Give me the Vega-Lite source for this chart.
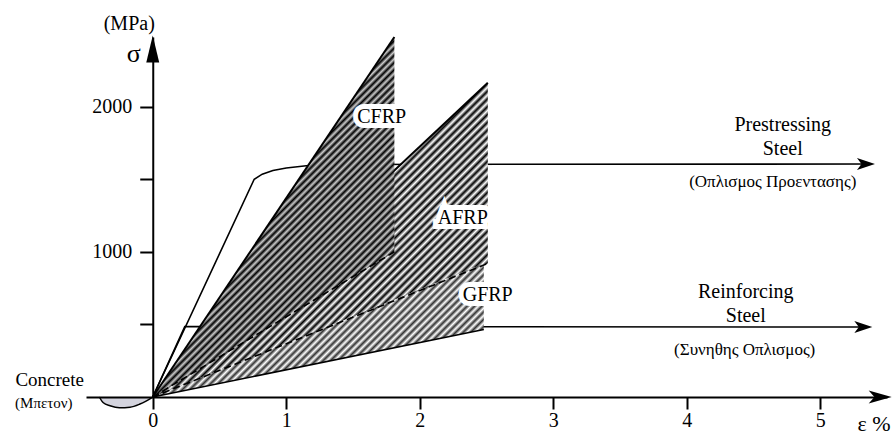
{
"$schema":"https://vega.github.io/schema/vega-lite/v6.json",
"width":801,"height":360,
"autosize":{"type":"none"},
"padding":{"left":86,"top":37,"right":6,"bottom":37},
"background":"white",
"config":{"view":{"stroke":null},"font":"Liberation Serif"},
"datasets":{
"frp":[{"m":"CFRP","e":0,"v":0,"v2":0},{"m":"CFRP","e":1.81,"v":2480,"v2":1000},{"m":"AFRP","e":0,"v":0,"v2":0},{"m":"AFRP","e":2.51,"v":2165,"v2":920},{"m":"GFRP","e":0,"v":0,"v2":0},{"m":"GFRP","e":2.48,"v":920,"v2":465}],
"steel":[{"s":"P","e":0,"v":0},{"s":"P","e":0.76,"v":1500},{"s":"P","e":0.82,"v":1535},{"s":"P","e":0.9,"v":1560},{"s":"P","e":1.0,"v":1578},{"s":"P","e":1.15,"v":1593},{"s":"P","e":1.35,"v":1602},{"s":"P","e":5.38,"v":1605},{"s":"R","e":0,"v":0},{"s":"R","e":0.24,"v":485},{"s":"R","e":5.36,"v":482}],
"concrete":[{"e":-0.4,"v":0},{"e":-0.37,"v":-40},{"e":-0.32,"v":-60},{"e":-0.25,"v":-74},{"e":-0.17,"v":-70},{"e":-0.1,"v":-50},{"e":-0.05,"v":-28},{"e":0,"v":0}],
"arrows":[{"k":"x","e":5.535,"v":0},{"k":"y","e":0,"v":2491},{"k":"s","e":5.41,"v":1605},{"k":"s","e":5.39,"v":482}],
"labels":[{"k":"frp","t":"CFRP","e":1.715,"v":1927},{"k":"frp","t":"AFRP","e":2.322,"v":1232},{"k":"frp","t":"GFRP","e":2.509,"v":702},{"k":"steel","t":"Prestressing\nSteel","e":4.719,"v":1874},{"k":"steel","t":"Reinforcing\nSteel","e":4.442,"v":723},{"k":"gr","t":"(Οπλισμος Προεντασης)","e":4.644,"v":1480},{"k":"gr","t":"(Συνηθης Οπλισμος)","e":4.434,"v":323},{"k":"conc","t":"Concrete","e":-0.772,"v":117},{"k":"conc2","t":"(Μπετον)","e":-0.816,"v":-41},{"k":"sig","t":"σ","e":-0.142,"v":2361}]
},
"encoding":{
"x":{"field":"e","type":"quantitative","scale":{"domain":[-0.5,5.5],"nice":false,"zero":false},
"axis":{"values":[0,1,2,3,4,5],"format":"d","title":"ε %","titleX":771,"titleY":33,"titleAlign":"left","titleBaseline":"alphabetic","titleAnchor":"start","titleFont":"Liberation Serif","titleFontSize":22,"titleFontWeight":"normal","titleColor":"#000","labelFont":"Liberation Serif","labelFontSize":20,"labelColor":"#000","labelDx":-5,"labelPadding":1,"labelFlush":false,"labelOverlap":false,"tickSize":12,"tickWidth":2,"tickColor":"#000","domainColor":"#000","domainWidth":2,"grid":false,"zindex":1}},
"y":{"field":"v","type":"quantitative","scale":{"domain":[0,2480],"nice":false,"zero":false},
"axis":{"values":[500,1000,1500,2000],"format":"d","labelExpr":"datum.value % 1000 === 0 ? datum.label : ''","offset":-66.75,"title":"(MPa)","titleAngle":0,"titleX":-24,"titleY":-8,"titleAlign":"center","titleBaseline":"alphabetic","titleFont":"Liberation Serif","titleFontSize":20,"titleFontWeight":"normal","titleColor":"#000","labelFont":"Liberation Serif","labelFontSize":20,"labelColor":"#000","labelPadding":8,"labelOverlap":false,"tickSize":13,"tickWidth":2,"tickColor":"#000","domainColor":"#000","domainWidth":2,"grid":false,"zindex":1}}
},
"layer":[
{"data":{"name":"concrete"},"mark":{"type":"area","fill":"#d4d4de","interpolate":"monotone"},"encoding":{"y2":{"datum":0}}},
{"data":{"name":"concrete"},"mark":{"type":"line","color":"#000","strokeWidth":1.5,"interpolate":"monotone"},"encoding":{}},
{"data":{"name":"steel"},"mark":{"type":"line","color":"#000","strokeWidth":1.6},"encoding":{"detail":{"field":"s"}}},
{"data":{"name":"frp"},"transform":[{"filter":"datum.m==='AFRP'"}],"mark":{"type":"area","fill":{"gradient":"linear","x1":0,"y1":0,"x2":1.03,"y2":0.968,"stops":[
{"offset":0,"color":"#000"},{"offset":0.006,"color":"#fff"},{"offset":0.012,"color":"#000"},{"offset":0.018,"color":"#fff"},{"offset":0.024,"color":"#000"},{"offset":0.03,"color":"#fff"},{"offset":0.036,"color":"#000"},{"offset":0.042,"color":"#fff"},{"offset":0.048,"color":"#000"},{"offset":0.054,"color":"#fff"},{"offset":0.06,"color":"#000"},{"offset":0.066,"color":"#fff"},{"offset":0.072,"color":"#000"},{"offset":0.078,"color":"#fff"},{"offset":0.084,"color":"#000"},{"offset":0.09,"color":"#fff"},{"offset":0.096,"color":"#000"},{"offset":0.102,"color":"#fff"},{"offset":0.108,"color":"#000"},{"offset":0.114,"color":"#fff"},{"offset":0.12,"color":"#000"},{"offset":0.126,"color":"#fff"},{"offset":0.132,"color":"#000"},{"offset":0.138,"color":"#fff"},{"offset":0.144,"color":"#000"},{"offset":0.15,"color":"#fff"},{"offset":0.156,"color":"#000"},{"offset":0.162,"color":"#fff"},{"offset":0.168,"color":"#000"},{"offset":0.174,"color":"#fff"},{"offset":0.18,"color":"#000"},{"offset":0.186,"color":"#fff"},{"offset":0.192,"color":"#000"},{"offset":0.198,"color":"#fff"},{"offset":0.204,"color":"#000"},{"offset":0.21,"color":"#fff"},{"offset":0.216,"color":"#000"},{"offset":0.222,"color":"#fff"},{"offset":0.228,"color":"#000"},{"offset":0.234,"color":"#fff"},{"offset":0.24,"color":"#000"},{"offset":0.246,"color":"#fff"},{"offset":0.252,"color":"#000"},{"offset":0.258,"color":"#fff"},{"offset":0.264,"color":"#000"},{"offset":0.27,"color":"#fff"},{"offset":0.276,"color":"#000"},{"offset":0.282,"color":"#fff"},{"offset":0.288,"color":"#000"},{"offset":0.294,"color":"#fff"},{"offset":0.3,"color":"#000"},{"offset":0.306,"color":"#fff"},{"offset":0.312,"color":"#000"},{"offset":0.318,"color":"#fff"},{"offset":0.324,"color":"#000"},{"offset":0.33,"color":"#fff"},{"offset":0.336,"color":"#000"},{"offset":0.342,"color":"#fff"},{"offset":0.348,"color":"#000"},{"offset":0.354,"color":"#fff"},{"offset":0.36,"color":"#000"},{"offset":0.366,"color":"#fff"},{"offset":0.372,"color":"#000"},{"offset":0.378,"color":"#fff"},{"offset":0.384,"color":"#000"},{"offset":0.39,"color":"#fff"},{"offset":0.396,"color":"#000"},{"offset":0.402,"color":"#fff"},{"offset":0.408,"color":"#000"},{"offset":0.414,"color":"#fff"},{"offset":0.42,"color":"#000"},{"offset":0.426,"color":"#fff"},{"offset":0.432,"color":"#000"},{"offset":0.438,"color":"#fff"},{"offset":0.444,"color":"#000"},{"offset":0.45,"color":"#fff"},{"offset":0.456,"color":"#000"},{"offset":0.462,"color":"#fff"},{"offset":0.468,"color":"#000"},{"offset":0.474,"color":"#fff"},{"offset":0.48,"color":"#000"},{"offset":0.486,"color":"#fff"},{"offset":0.492,"color":"#000"},{"offset":0.498,"color":"#fff"},{"offset":0.504,"color":"#000"},{"offset":0.51,"color":"#fff"},{"offset":0.516,"color":"#000"},{"offset":0.522,"color":"#fff"},{"offset":0.528,"color":"#000"},{"offset":0.534,"color":"#fff"},{"offset":0.54,"color":"#000"},{"offset":0.546,"color":"#fff"},{"offset":0.552,"color":"#000"},{"offset":0.558,"color":"#fff"},{"offset":0.564,"color":"#000"},{"offset":0.57,"color":"#fff"},{"offset":0.576,"color":"#000"},{"offset":0.582,"color":"#fff"},{"offset":0.588,"color":"#000"},{"offset":0.594,"color":"#fff"},{"offset":0.6,"color":"#000"},{"offset":0.606,"color":"#fff"},{"offset":0.612,"color":"#000"},{"offset":0.618,"color":"#fff"},{"offset":0.624,"color":"#000"},{"offset":0.63,"color":"#fff"},{"offset":0.636,"color":"#000"},{"offset":0.642,"color":"#fff"},{"offset":0.648,"color":"#000"},{"offset":0.654,"color":"#fff"},{"offset":0.66,"color":"#000"},{"offset":0.666,"color":"#fff"},{"offset":0.672,"color":"#000"},{"offset":0.678,"color":"#fff"},{"offset":0.684,"color":"#000"},{"offset":0.69,"color":"#fff"},{"offset":0.696,"color":"#000"},{"offset":0.702,"color":"#fff"},{"offset":0.708,"color":"#000"},{"offset":0.714,"color":"#fff"},{"offset":0.72,"color":"#000"},{"offset":0.726,"color":"#fff"},{"offset":0.732,"color":"#000"},{"offset":0.738,"color":"#fff"},{"offset":0.744,"color":"#000"},{"offset":0.75,"color":"#fff"},{"offset":0.756,"color":"#000"},{"offset":0.762,"color":"#fff"},{"offset":0.768,"color":"#000"},{"offset":0.774,"color":"#fff"},{"offset":0.78,"color":"#000"},{"offset":0.786,"color":"#fff"},{"offset":0.792,"color":"#000"},{"offset":0.798,"color":"#fff"},{"offset":0.804,"color":"#000"},{"offset":0.81,"color":"#fff"},{"offset":0.816,"color":"#000"},{"offset":0.822,"color":"#fff"},{"offset":0.828,"color":"#000"},{"offset":0.834,"color":"#fff"},{"offset":0.84,"color":"#000"},{"offset":0.846,"color":"#fff"},{"offset":0.852,"color":"#000"},{"offset":0.858,"color":"#fff"},{"offset":0.864,"color":"#000"},{"offset":0.87,"color":"#fff"},{"offset":0.876,"color":"#000"},{"offset":0.882,"color":"#fff"},{"offset":0.888,"color":"#000"},{"offset":0.894,"color":"#fff"},{"offset":0.9,"color":"#000"},{"offset":0.906,"color":"#fff"},{"offset":0.912,"color":"#000"},{"offset":0.918,"color":"#fff"},{"offset":0.924,"color":"#000"},{"offset":0.93,"color":"#fff"},{"offset":0.936,"color":"#000"},{"offset":0.942,"color":"#fff"},{"offset":0.948,"color":"#000"},{"offset":0.954,"color":"#fff"},{"offset":0.96,"color":"#000"},{"offset":0.966,"color":"#fff"},{"offset":0.972,"color":"#000"},{"offset":0.978,"color":"#fff"},{"offset":0.984,"color":"#000"},{"offset":0.99,"color":"#fff"},{"offset":0.996,"color":"#000"},{"offset":1,"color":"#fff"}]}},"encoding":{"y2":{"field":"v2"}}},
{"data":{"name":"frp"},"transform":[{"filter":"datum.m==='AFRP'"}],"mark":{"type":"line","color":"#000","strokeWidth":2},"encoding":{}},
{"data":{"name":"frp"},"transform":[{"filter":"datum.m==='GFRP'"}],"mark":{"type":"area","fill":{"gradient":"linear","x1":0,"y1":0,"x2":1.207,"y2":0.489,"stops":[
{"offset":0,"color":"#333"},{"offset":0.008,"color":"#fff"},{"offset":0.016,"color":"#333"},{"offset":0.024,"color":"#fff"},{"offset":0.032,"color":"#333"},{"offset":0.04,"color":"#fff"},{"offset":0.048,"color":"#333"},{"offset":0.056,"color":"#fff"},{"offset":0.064,"color":"#333"},{"offset":0.072,"color":"#fff"},{"offset":0.08,"color":"#333"},{"offset":0.088,"color":"#fff"},{"offset":0.096,"color":"#333"},{"offset":0.104,"color":"#fff"},{"offset":0.112,"color":"#333"},{"offset":0.12,"color":"#fff"},{"offset":0.128,"color":"#333"},{"offset":0.136,"color":"#fff"},{"offset":0.144,"color":"#333"},{"offset":0.152,"color":"#fff"},{"offset":0.16,"color":"#333"},{"offset":0.168,"color":"#fff"},{"offset":0.176,"color":"#333"},{"offset":0.184,"color":"#fff"},{"offset":0.192,"color":"#333"},{"offset":0.2,"color":"#fff"},{"offset":0.208,"color":"#333"},{"offset":0.216,"color":"#fff"},{"offset":0.224,"color":"#333"},{"offset":0.232,"color":"#fff"},{"offset":0.24,"color":"#333"},{"offset":0.248,"color":"#fff"},{"offset":0.256,"color":"#333"},{"offset":0.264,"color":"#fff"},{"offset":0.272,"color":"#333"},{"offset":0.28,"color":"#fff"},{"offset":0.288,"color":"#333"},{"offset":0.296,"color":"#fff"},{"offset":0.304,"color":"#333"},{"offset":0.312,"color":"#fff"},{"offset":0.32,"color":"#333"},{"offset":0.328,"color":"#fff"},{"offset":0.336,"color":"#333"},{"offset":0.344,"color":"#fff"},{"offset":0.352,"color":"#333"},{"offset":0.36,"color":"#fff"},{"offset":0.368,"color":"#333"},{"offset":0.376,"color":"#fff"},{"offset":0.384,"color":"#333"},{"offset":0.392,"color":"#fff"},{"offset":0.4,"color":"#333"},{"offset":0.408,"color":"#fff"},{"offset":0.416,"color":"#333"},{"offset":0.424,"color":"#fff"},{"offset":0.432,"color":"#333"},{"offset":0.44,"color":"#fff"},{"offset":0.448,"color":"#333"},{"offset":0.456,"color":"#fff"},{"offset":0.464,"color":"#333"},{"offset":0.472,"color":"#fff"},{"offset":0.48,"color":"#333"},{"offset":0.488,"color":"#fff"},{"offset":0.496,"color":"#333"},{"offset":0.504,"color":"#fff"},{"offset":0.512,"color":"#333"},{"offset":0.52,"color":"#fff"},{"offset":0.528,"color":"#333"},{"offset":0.536,"color":"#fff"},{"offset":0.544,"color":"#333"},{"offset":0.552,"color":"#fff"},{"offset":0.56,"color":"#333"},{"offset":0.568,"color":"#fff"},{"offset":0.576,"color":"#333"},{"offset":0.584,"color":"#fff"},{"offset":0.592,"color":"#333"},{"offset":0.6,"color":"#fff"},{"offset":0.608,"color":"#333"},{"offset":0.616,"color":"#fff"},{"offset":0.624,"color":"#333"},{"offset":0.632,"color":"#fff"},{"offset":0.64,"color":"#333"},{"offset":0.648,"color":"#fff"},{"offset":0.656,"color":"#333"},{"offset":0.664,"color":"#fff"},{"offset":0.672,"color":"#333"},{"offset":0.68,"color":"#fff"},{"offset":0.688,"color":"#333"},{"offset":0.696,"color":"#fff"},{"offset":0.704,"color":"#333"},{"offset":0.712,"color":"#fff"},{"offset":0.72,"color":"#333"},{"offset":0.728,"color":"#fff"},{"offset":0.736,"color":"#333"},{"offset":0.744,"color":"#fff"},{"offset":0.752,"color":"#333"},{"offset":0.76,"color":"#fff"},{"offset":0.768,"color":"#333"},{"offset":0.776,"color":"#fff"},{"offset":0.784,"color":"#333"},{"offset":0.792,"color":"#fff"},{"offset":0.8,"color":"#333"},{"offset":0.808,"color":"#fff"},{"offset":0.816,"color":"#333"},{"offset":0.824,"color":"#fff"},{"offset":0.832,"color":"#333"},{"offset":0.84,"color":"#fff"},{"offset":0.848,"color":"#333"},{"offset":0.856,"color":"#fff"},{"offset":0.864,"color":"#333"},{"offset":0.872,"color":"#fff"},{"offset":0.88,"color":"#333"},{"offset":0.888,"color":"#fff"},{"offset":0.896,"color":"#333"},{"offset":0.904,"color":"#fff"},{"offset":0.912,"color":"#333"},{"offset":0.92,"color":"#fff"},{"offset":0.928,"color":"#333"},{"offset":0.936,"color":"#fff"},{"offset":0.944,"color":"#333"},{"offset":0.952,"color":"#fff"},{"offset":0.96,"color":"#333"},{"offset":0.968,"color":"#fff"},{"offset":0.976,"color":"#333"},{"offset":0.984,"color":"#fff"},{"offset":0.992,"color":"#333"},{"offset":1,"color":"#fff"}]}},"encoding":{"y2":{"field":"v2"}}},
{"data":{"name":"frp"},"transform":[{"filter":"datum.m==='AFRP'"},{"fold":["v2"],"as":["key","v"]}],"mark":{"type":"line","color":"#000","strokeWidth":1.6,"strokeDash":[7,4]},"encoding":{}},
{"data":{"name":"frp"},"transform":[{"filter":"datum.m==='GFRP'"},{"fold":["v2"],"as":["key","v"]}],"mark":{"type":"line","color":"#000","strokeWidth":1.6},"encoding":{}},
{"data":{"name":"frp"},"transform":[{"filter":"datum.m==='CFRP'"}],"mark":{"type":"area","fill":{"gradient":"linear","x1":0,"y1":0,"x2":0.774,"y2":1.152,"stops":[
{"offset":0,"color":"#000"},{"offset":0.006,"color":"#ccc"},{"offset":0.012,"color":"#000"},{"offset":0.018,"color":"#ccc"},{"offset":0.024,"color":"#000"},{"offset":0.03,"color":"#ccc"},{"offset":0.036,"color":"#000"},{"offset":0.042,"color":"#ccc"},{"offset":0.048,"color":"#000"},{"offset":0.054,"color":"#ccc"},{"offset":0.06,"color":"#000"},{"offset":0.066,"color":"#ccc"},{"offset":0.072,"color":"#000"},{"offset":0.078,"color":"#ccc"},{"offset":0.084,"color":"#000"},{"offset":0.09,"color":"#ccc"},{"offset":0.096,"color":"#000"},{"offset":0.102,"color":"#ccc"},{"offset":0.108,"color":"#000"},{"offset":0.114,"color":"#ccc"},{"offset":0.12,"color":"#000"},{"offset":0.126,"color":"#ccc"},{"offset":0.132,"color":"#000"},{"offset":0.138,"color":"#ccc"},{"offset":0.144,"color":"#000"},{"offset":0.15,"color":"#ccc"},{"offset":0.156,"color":"#000"},{"offset":0.162,"color":"#ccc"},{"offset":0.168,"color":"#000"},{"offset":0.174,"color":"#ccc"},{"offset":0.18,"color":"#000"},{"offset":0.186,"color":"#ccc"},{"offset":0.192,"color":"#000"},{"offset":0.198,"color":"#ccc"},{"offset":0.204,"color":"#000"},{"offset":0.21,"color":"#ccc"},{"offset":0.216,"color":"#000"},{"offset":0.222,"color":"#ccc"},{"offset":0.228,"color":"#000"},{"offset":0.234,"color":"#ccc"},{"offset":0.24,"color":"#000"},{"offset":0.246,"color":"#ccc"},{"offset":0.252,"color":"#000"},{"offset":0.258,"color":"#ccc"},{"offset":0.264,"color":"#000"},{"offset":0.27,"color":"#ccc"},{"offset":0.276,"color":"#000"},{"offset":0.282,"color":"#ccc"},{"offset":0.288,"color":"#000"},{"offset":0.294,"color":"#ccc"},{"offset":0.3,"color":"#000"},{"offset":0.306,"color":"#ccc"},{"offset":0.312,"color":"#000"},{"offset":0.318,"color":"#ccc"},{"offset":0.324,"color":"#000"},{"offset":0.33,"color":"#ccc"},{"offset":0.336,"color":"#000"},{"offset":0.342,"color":"#ccc"},{"offset":0.348,"color":"#000"},{"offset":0.354,"color":"#ccc"},{"offset":0.36,"color":"#000"},{"offset":0.366,"color":"#ccc"},{"offset":0.372,"color":"#000"},{"offset":0.378,"color":"#ccc"},{"offset":0.384,"color":"#000"},{"offset":0.39,"color":"#ccc"},{"offset":0.396,"color":"#000"},{"offset":0.402,"color":"#ccc"},{"offset":0.408,"color":"#000"},{"offset":0.414,"color":"#ccc"},{"offset":0.42,"color":"#000"},{"offset":0.426,"color":"#ccc"},{"offset":0.432,"color":"#000"},{"offset":0.438,"color":"#ccc"},{"offset":0.444,"color":"#000"},{"offset":0.45,"color":"#ccc"},{"offset":0.456,"color":"#000"},{"offset":0.462,"color":"#ccc"},{"offset":0.468,"color":"#000"},{"offset":0.474,"color":"#ccc"},{"offset":0.48,"color":"#000"},{"offset":0.486,"color":"#ccc"},{"offset":0.492,"color":"#000"},{"offset":0.498,"color":"#ccc"},{"offset":0.504,"color":"#000"},{"offset":0.51,"color":"#ccc"},{"offset":0.516,"color":"#000"},{"offset":0.522,"color":"#ccc"},{"offset":0.528,"color":"#000"},{"offset":0.534,"color":"#ccc"},{"offset":0.54,"color":"#000"},{"offset":0.546,"color":"#ccc"},{"offset":0.552,"color":"#000"},{"offset":0.558,"color":"#ccc"},{"offset":0.564,"color":"#000"},{"offset":0.57,"color":"#ccc"},{"offset":0.576,"color":"#000"},{"offset":0.582,"color":"#ccc"},{"offset":0.588,"color":"#000"},{"offset":0.594,"color":"#ccc"},{"offset":0.6,"color":"#000"},{"offset":0.606,"color":"#ccc"},{"offset":0.612,"color":"#000"},{"offset":0.618,"color":"#ccc"},{"offset":0.624,"color":"#000"},{"offset":0.63,"color":"#ccc"},{"offset":0.636,"color":"#000"},{"offset":0.642,"color":"#ccc"},{"offset":0.648,"color":"#000"},{"offset":0.654,"color":"#ccc"},{"offset":0.66,"color":"#000"},{"offset":0.666,"color":"#ccc"},{"offset":0.672,"color":"#000"},{"offset":0.678,"color":"#ccc"},{"offset":0.684,"color":"#000"},{"offset":0.69,"color":"#ccc"},{"offset":0.696,"color":"#000"},{"offset":0.702,"color":"#ccc"},{"offset":0.708,"color":"#000"},{"offset":0.714,"color":"#ccc"},{"offset":0.72,"color":"#000"},{"offset":0.726,"color":"#ccc"},{"offset":0.732,"color":"#000"},{"offset":0.738,"color":"#ccc"},{"offset":0.744,"color":"#000"},{"offset":0.75,"color":"#ccc"},{"offset":0.756,"color":"#000"},{"offset":0.762,"color":"#ccc"},{"offset":0.768,"color":"#000"},{"offset":0.774,"color":"#ccc"},{"offset":0.78,"color":"#000"},{"offset":0.786,"color":"#ccc"},{"offset":0.792,"color":"#000"},{"offset":0.798,"color":"#ccc"},{"offset":0.804,"color":"#000"},{"offset":0.81,"color":"#ccc"},{"offset":0.816,"color":"#000"},{"offset":0.822,"color":"#ccc"},{"offset":0.828,"color":"#000"},{"offset":0.834,"color":"#ccc"},{"offset":0.84,"color":"#000"},{"offset":0.846,"color":"#ccc"},{"offset":0.852,"color":"#000"},{"offset":0.858,"color":"#ccc"},{"offset":0.864,"color":"#000"},{"offset":0.87,"color":"#ccc"},{"offset":0.876,"color":"#000"},{"offset":0.882,"color":"#ccc"},{"offset":0.888,"color":"#000"},{"offset":0.894,"color":"#ccc"},{"offset":0.9,"color":"#000"},{"offset":0.906,"color":"#ccc"},{"offset":0.912,"color":"#000"},{"offset":0.918,"color":"#ccc"},{"offset":0.924,"color":"#000"},{"offset":0.93,"color":"#ccc"},{"offset":0.936,"color":"#000"},{"offset":0.942,"color":"#ccc"},{"offset":0.948,"color":"#000"},{"offset":0.954,"color":"#ccc"},{"offset":0.96,"color":"#000"},{"offset":0.966,"color":"#ccc"},{"offset":0.972,"color":"#000"},{"offset":0.978,"color":"#ccc"},{"offset":0.984,"color":"#000"},{"offset":0.99,"color":"#ccc"},{"offset":0.996,"color":"#000"},{"offset":1,"color":"#ccc"}]}},"encoding":{"y2":{"field":"v2"}}},
{"data":{"name":"frp"},"transform":[{"filter":"datum.m==='CFRP'"}],"mark":{"type":"line","color":"#000","strokeWidth":2},"encoding":{}},
{"data":{"name":"frp"},"transform":[{"filter":"datum.m==='CFRP'"},{"fold":["v2"],"as":["key","v"]}],"mark":{"type":"line","color":"#000","strokeWidth":1.6,"strokeDash":[7,4]},"encoding":{}},
{"data":{"name":"arrows"},"transform":[{"filter":"datum.k==='x'"}],"mark":{"type":"point","filled":true,"color":"#000","opacity":1,"strokeWidth":0,"size":529,"shape":"M0,0L-2,-0.565L-1.5,0L-2,0.565Z"},"encoding":{}},
{"data":{"name":"arrows"},"transform":[{"filter":"datum.k==='y'"}],"mark":{"type":"point","filled":true,"color":"#000","opacity":1,"strokeWidth":0,"size":729,"shape":"M0,0L0.48,2L-0.48,2Z"},"encoding":{}},
{"data":{"name":"arrows"},"transform":[{"filter":"datum.k==='s'"}],"mark":{"type":"point","filled":true,"color":"#000","opacity":1,"strokeWidth":0,"size":324,"shape":"M0,0L-2,-0.667L-1.5,0L-2,0.667Z"},"encoding":{}},
{"data":{"name":"labels"},"transform":[{"filter":"datum.k==='frp'"}],"mark":{"type":"text","font":"Liberation Serif","fontSize":20,"fill":"#fff","stroke":"#fff","strokeWidth":10,"strokeJoin":"miter","align":"center","baseline":"middle"},"encoding":{"text":{"field":"t"}}},
{"data":{"name":"labels"},"transform":[{"filter":"datum.k==='frp'"}],"mark":{"type":"text","font":"Liberation Serif","fontSize":20,"color":"#000","align":"center","baseline":"middle"},"encoding":{"text":{"field":"t"}}},
{"data":{"name":"labels"},"transform":[{"filter":"datum.k==='steel'"}],"mark":{"type":"text","font":"Liberation Serif","fontSize":20,"color":"#000","align":"center","baseline":"middle","lineBreak":"\n","lineHeight":24},"encoding":{"text":{"field":"t"}}},
{"data":{"name":"labels"},"transform":[{"filter":"datum.k==='gr'"}],"mark":{"type":"text","font":"Liberation Serif","fontSize":17,"color":"#000","align":"center","baseline":"middle"},"encoding":{"text":{"field":"t"}}},
{"data":{"name":"labels"},"transform":[{"filter":"datum.k==='conc'"}],"mark":{"type":"text","font":"Liberation Serif","fontSize":19,"color":"#000","align":"center","baseline":"middle"},"encoding":{"text":{"field":"t"}}},
{"data":{"name":"labels"},"transform":[{"filter":"datum.k==='conc2'"}],"mark":{"type":"text","font":"Liberation Serif","fontSize":15,"color":"#000","align":"center","baseline":"middle"},"encoding":{"text":{"field":"t"}}},
{"data":{"name":"labels"},"transform":[{"filter":"datum.k==='sig'"}],"mark":{"type":"text","font":"Liberation Serif","fontSize":26,"color":"#000","align":"center","baseline":"middle"},"encoding":{"text":{"field":"t"}}}
]
}
